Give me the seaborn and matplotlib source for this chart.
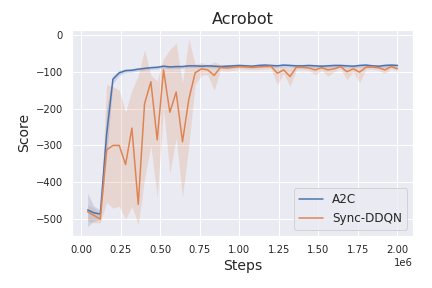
import numpy as np
import pandas as pd
import seaborn as sns
import matplotlib
matplotlib.use("Agg")
import matplotlib.pyplot as plt

# Training steps (evaluation every 40k steps)
steps = [40000 * k for k in range(1, 51)]

# Mean score per algorithm
a2c_mean = [-475, -483, -486, -270, -120, -103, -97, -96, -93, -91,
            -89, -88, -85, -87, -86, -86, -84, -84, -85, -84,
            -85, -86, -85, -84, -83, -84, -85, -83, -82, -83,
            -84, -82, -83, -84, -84, -83, -84, -85, -84, -83,
            -83, -84, -85, -83, -82, -84, -85, -83, -82, -83]
a2c_low = [-520, -505, -500, -330, -132, -110, -102, -101, -98, -96,
           -94, -93, -90, -92, -91, -91, -89, -89, -90, -89,
           -90, -91, -90, -89, -88, -89, -90, -88, -87, -88,
           -89, -87, -88, -89, -89, -88, -89, -91, -89, -88,
           -88, -89, -90, -88, -87, -89, -90, -88, -87, -88]
a2c_high = [-430, -465, -475, -200, -110, -96, -92, -91, -89, -87,
            -85, -84, -81, -83, -82, -82, -80, -80, -81, -80,
            -81, -82, -81, -80, -79, -80, -81, -79, -78, -79,
            -80, -78, -79, -80, -80, -79, -80, -81, -80, -79,
            -79, -80, -81, -79, -78, -80, -81, -79, -78, -79]

ddqn_mean = [-480, -490, -500, -312, -300, -300, -352, -253, -460, -187,
             -127, -285, -95, -210, -155, -290, -175, -103, -92, -95,
             -110, -88, -90, -88, -86, -87, -88, -87, -86, -85,
             -104, -95, -113, -88, -88, -90, -95, -89, -95, -92,
             -86, -100, -92, -101, -88, -87, -89, -95, -86, -92]
ddqn_low = [-505, -510, -510, -455, -470, -465, -500, -465, -515, -390,
            -300, -440, -200, -375, -280, -440, -300, -135, -110, -108,
            -150, -96, -98, -96, -93, -94, -95, -94, -93, -92,
            -135, -105, -140, -95, -95, -97, -108, -96, -112, -100,
            -92, -122, -100, -130, -94, -93, -96, -105, -92, -98]
ddqn_high = [-460, -470, -488, -135, -140, -150, -210, -150, -110, -40,
             -110, -125, -65, -40, -22, -130, -12, -80, -75, -82,
             -73, -80, -82, -80, -80, -81, -82, -81, -80, -79,
             -88, -86, -90, -82, -82, -83, -85, -83, -86, -84,
             -80, -88, -84, -86, -82, -81, -83, -85, -80, -86]

algorithms = ["A2C", "Sync-DDQN"]

df = pd.DataFrame({
    "Steps": steps * 2,
    "Score": a2c_mean + ddqn_mean,
    "Algorithm": ["A2C"] * len(steps) + ["Sync-DDQN"] * len(steps),
})

sns.set_theme(style="darkgrid")
palette = sns.color_palette("deep")

fig, ax = plt.subplots(figsize=(6, 4), dpi=72)
sns.lineplot(data=df, x="Steps", y="Score", hue="Algorithm",
             hue_order=algorithms, palette=palette[:2], linewidth=1.5, ax=ax)
ax.fill_between(steps, a2c_low, a2c_high, color=palette[0], alpha=0.2, linewidth=0)
ax.fill_between(steps, ddqn_low, ddqn_high, color=palette[1], alpha=0.2, linewidth=0)

ax.set_title("Acrobot", fontsize=16)
ax.set_xlabel("Steps", fontsize=14)
ax.set_ylabel("Score", fontsize=14)
ax.tick_params(labelsize=10)
ax.xaxis.get_offset_text().set_fontsize(10)
ax.legend(loc="lower right", fontsize=12)

plt.subplots_adjust(left=0.167, right=0.956, top=0.896, bottom=0.181)
plt.savefig("out.png", dpi=72)
